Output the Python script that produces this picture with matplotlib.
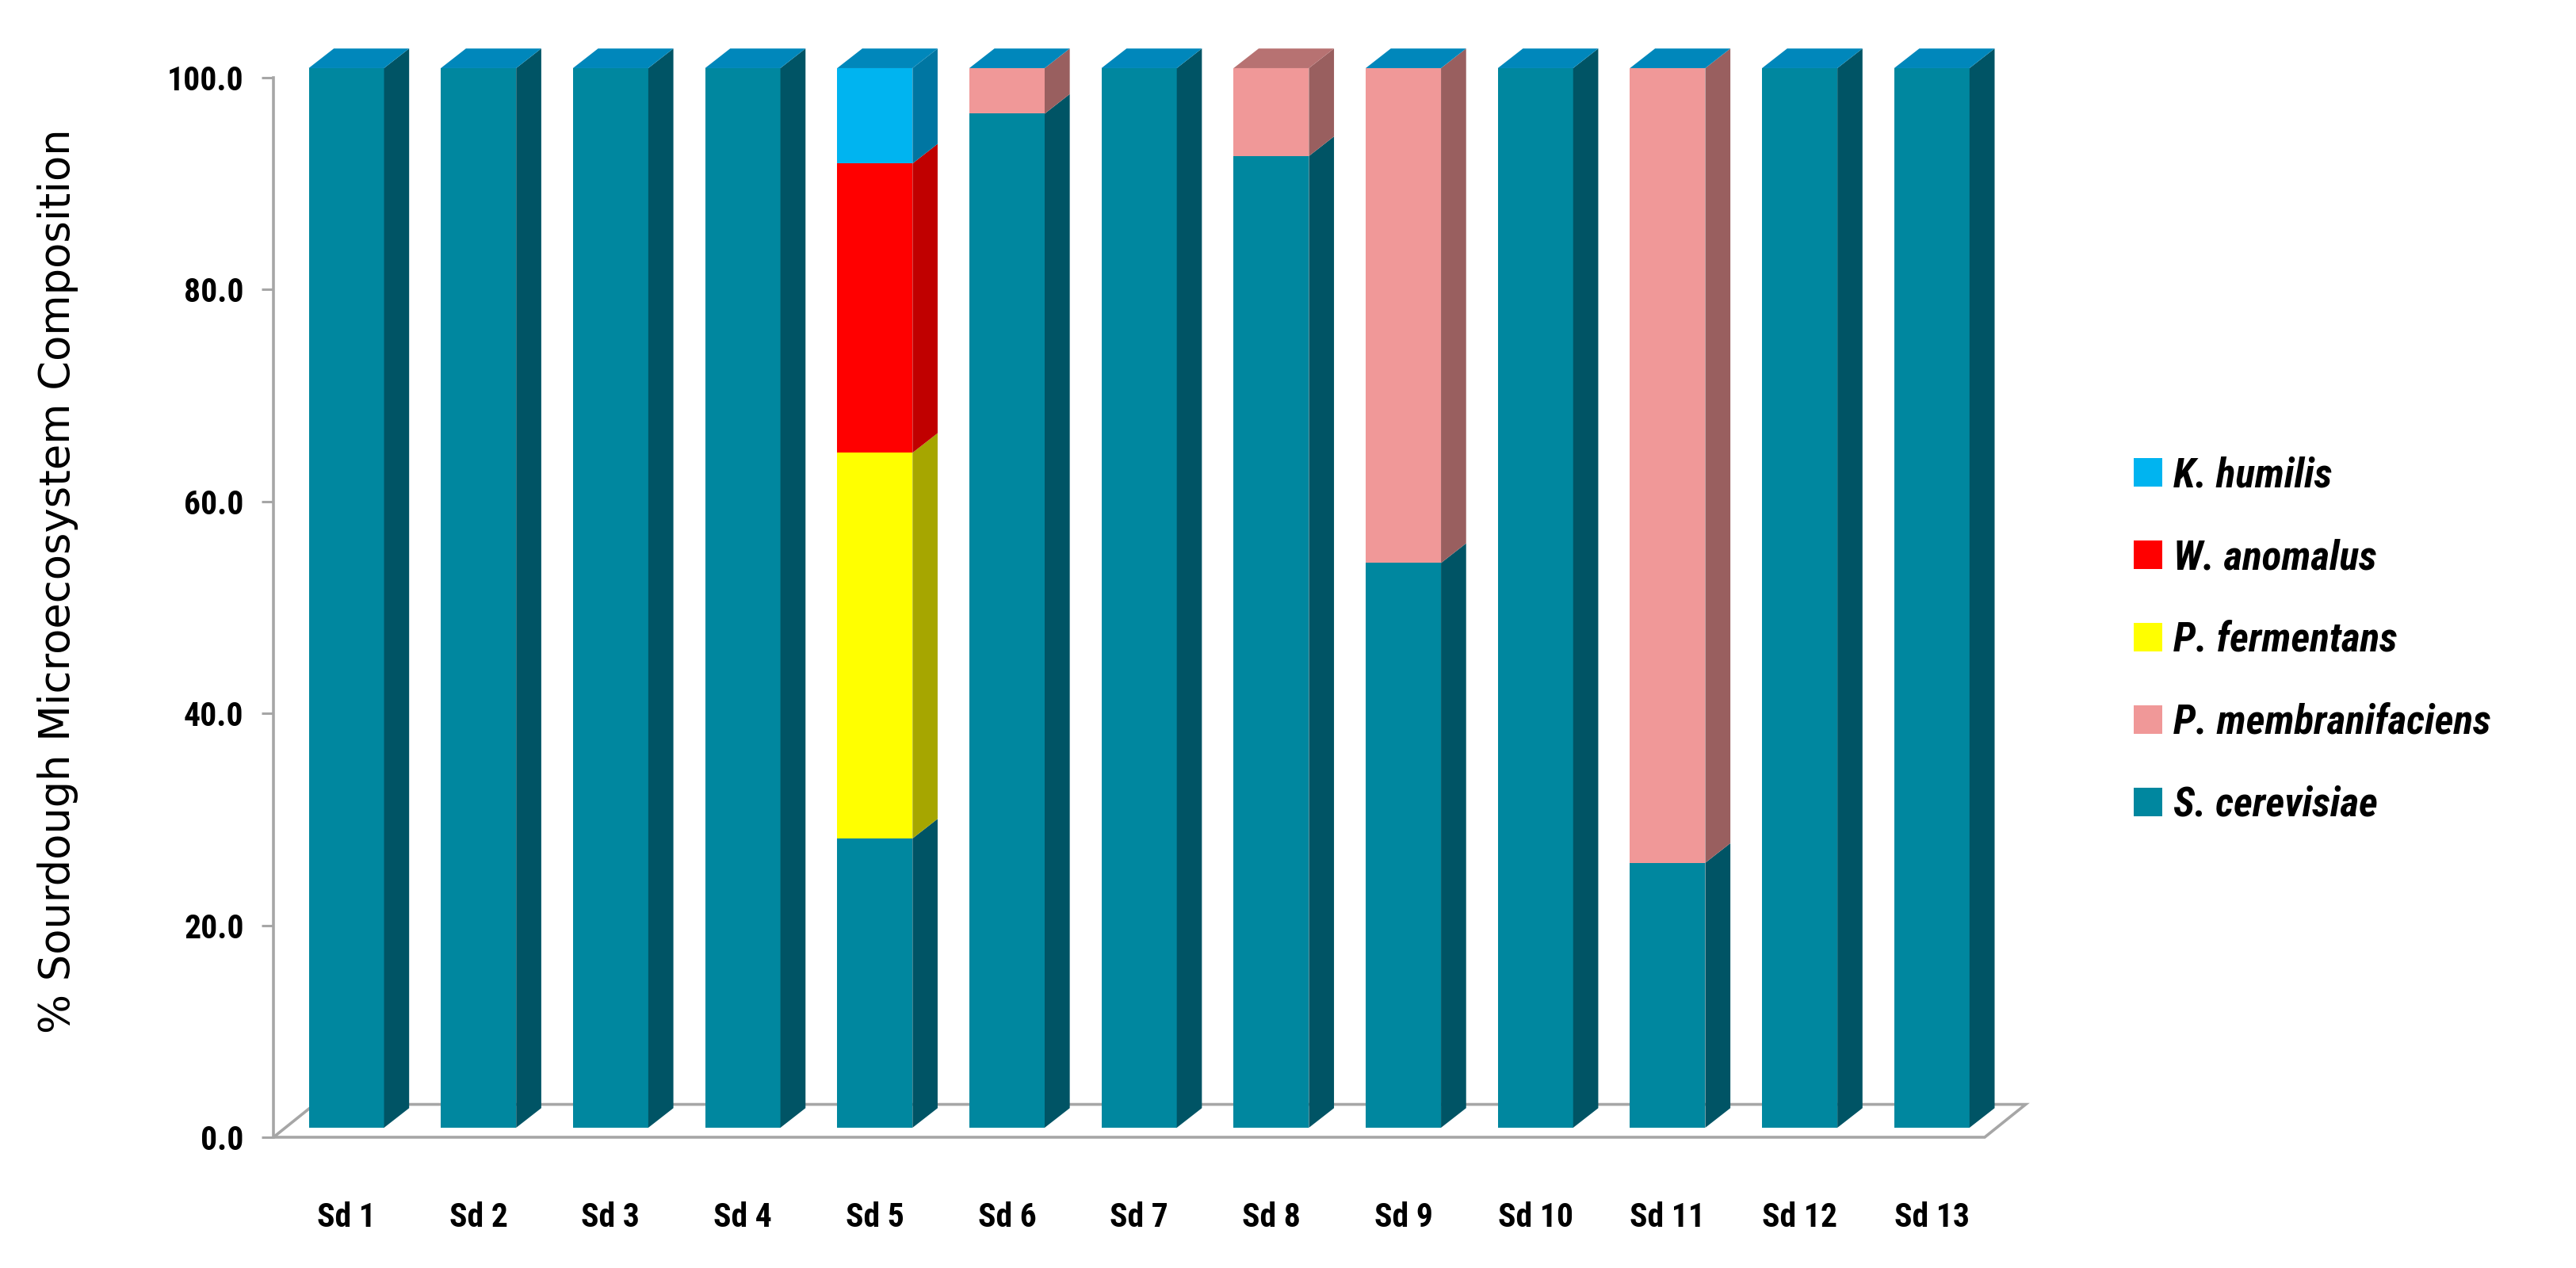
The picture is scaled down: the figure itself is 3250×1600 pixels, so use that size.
import matplotlib
matplotlib.use("Agg")
import matplotlib.pyplot as plt
from matplotlib import font_manager
from matplotlib.patches import Polygon, Patch
from matplotlib.ticker import FormatStrFormatter

# ==================== Data ====================
samples = ["Sd 1", "Sd 2", "Sd 3", "Sd 4", "Sd 5", "Sd 6", "Sd 7",
           "Sd 8", "Sd 9", "Sd 10", "Sd 11", "Sd 12", "Sd 13"]

s_cerevisiae = [100, 100, 100, 100, 27.3, 95.7, 100, 91.7, 53.3, 100, 25.0, 100, 100]
p_membranifaciens = [0, 0, 0, 0, 0, 4.3, 0, 8.3, 46.7, 0, 75.0, 0, 0]
p_fermentans = [0, 0, 0, 0, 36.4, 0, 0, 0, 0, 0, 0, 0, 0]
w_anomalus = [0, 0, 0, 0, 27.3, 0, 0, 0, 0, 0, 0, 0, 0]
k_humilis = [0, 0, 0, 0, 9.0, 0, 0, 0, 0, 0, 0, 0, 0]

species = ["S. cerevisiae", "P. membranifaciens", "P. fermentans",
           "W. anomalus", "K. humilis"]
series = [s_cerevisiae, p_membranifaciens, p_fermentans, w_anomalus, k_humilis]

# ==================== Style ====================
FRONT = ["#00879F", "#F09898", "#FFFF00", "#FF0000", "#00B4F0"]
SIDE = ["#005465", "#995F5F", "#A6A600", "#C00000", "#0076A2"]
TOP = "#0087BB"
TOP_SPECIAL = {7: "#B77272"}   # Excel drew Sd 8's lid in pink-brown
GRAY = "#A6A6A6"

# pick a condensed face if one is installed, the original labels look narrow
names = {f.name for f in font_manager.fontManager.ttflist}
NARROW = "Liberation Sans"
STRETCH = "normal"
for cand in ["Liberation Sans Narrow", "Roboto Condensed"]:
    if cand in names:
        NARROW = cand
        break
else:
    cond = [f for f in font_manager.fontManager.ttflist
            if f.name == "DejaVu Sans" and f.stretch == "condensed" and f.weight in (700, "bold")]
    if cond:
        NARROW, STRETCH = "DejaVu Sans", "condensed"

BAR_W = 0.57      # front face width (category units)
DX = 0.19         # depth, x
DY = 1.85         # depth, y (data units)
LIFT = 0.9        # bars sit slightly back on the floor

fig = plt.figure(figsize=(32.5, 16), dpi=100)
ax = fig.add_axes([345 / 3250, 165 / 1600, (2504 - 345) / 3250, (1435 - 98) / 1600])
x_left, x_right = -0.552, 12.40
ax.set_xlim(x_left, x_right)
ax.set_ylim(0, 100)

# floor
FDX, FDY = 0.31, 3.1
floor = Polygon([(x_left, 0), (x_right, 0), (x_right + FDX, FDY), (x_left + FDX, FDY)],
                closed=True, facecolor="white", edgecolor=GRAY, linewidth=2.6,
                clip_on=False, zorder=1)
ax.add_patch(floor)

# bars
for i in range(len(samples)):
    cum = LIFT
    for k, s in enumerate(series):
        v = s[i]
        if v <= 0:
            continue
        ax.bar(i, v, width=BAR_W, bottom=cum, color=FRONT[k], linewidth=0,
               clip_on=False, zorder=3)
        xr = i + BAR_W / 2
        side = Polygon([(xr, cum), (xr + DX, cum + DY), (xr + DX, cum + v + DY), (xr, cum + v)],
                       closed=True, facecolor=SIDE[k], edgecolor="none",
                       clip_on=False, zorder=3)
        ax.add_patch(side)
        cum += v
    xl = i - BAR_W / 2
    xr = i + BAR_W / 2
    lid = Polygon([(xl, cum), (xr, cum), (xr + DX, cum + DY), (xl + DX, cum + DY)],
                  closed=True, facecolor=TOP_SPECIAL.get(i, TOP), edgecolor="none",
                  clip_on=False, zorder=3)
    ax.add_patch(lid)

# axes styling
for sp in ["top", "right", "bottom"]:
    ax.spines[sp].set_visible(False)
ax.spines["left"].set_color(GRAY)
ax.spines["left"].set_linewidth(2.6)
ax.set_yticks([0, 20, 40, 60, 80, 100])
ax.yaxis.set_major_formatter(FormatStrFormatter("%.1f"))
ax.tick_params(axis="y", direction="out", length=11, width=2.2, color=GRAY, pad=16)
for lab in ax.get_yticklabels():
    lab.set_fontfamily(NARROW)
    lab.set_fontstretch(STRETCH)
    lab.set_fontweight("bold")
    lab.set_fontsize(30)

ax.set_xticks(range(len(samples)))
ax.set_xticklabels(samples, fontfamily=NARROW, fontstretch=STRETCH,
                   fontweight="bold", fontsize=30)
ax.tick_params(axis="x", length=0, pad=58)

fig.text(73 / 3250, 1 - 733 / 1600, "% Sourdough Microecosystem Composition",
         rotation=90, ha="center", va="center", fontsize=38, family="DejaVu Sans")

# legend
handles = [Patch(facecolor=FRONT[k], edgecolor="none") for k in range(len(species))][::-1]
leg = fig.legend(handles, species[::-1], loc="center left",
                 bbox_to_anchor=(2692 / 3250, 1 - 808 / 1600), frameon=False,
                 prop={"family": NARROW, "stretch": STRETCH, "weight": "bold",
                       "style": "italic", "size": 37},
                 handlelength=0.7, handleheight=0.7, handletextpad=0.28,
                 labelspacing=1.05, borderpad=0, borderaxespad=0)

fig.savefig("out.png", dpi=100, facecolor="white")
